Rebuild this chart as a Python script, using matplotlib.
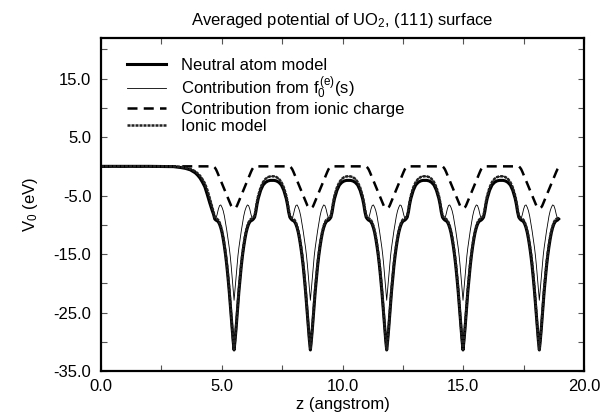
import numpy as np
import matplotlib.pyplot as plt
from matplotlib.ticker import MultipleLocator, FormatStrFormatter

plt.rcParams['font.family'] = ['Liberation Sans', 'DejaVu Sans']
plt.rcParams['mathtext.fontset'] = 'custom'
plt.rcParams['mathtext.rm'] = 'Liberation Sans'
plt.rcParams['mathtext.it'] = 'Liberation Sans'
plt.rcParams['mathtext.default'] = 'regular'

# well positions (angstrom) and where the curves stop
wells = [5.51, 8.67, 11.83, 14.99, 18.15]
z_end = 18.95

# one half of a well: distance from well centre -> potential (eV)
half_d = [0.00, 0.04, 0.08, 0.12, 0.16, 0.20, 0.25, 0.30, 0.35, 0.40, 0.45,
          0.50, 0.55, 0.60, 0.65, 0.70, 0.75, 0.80, 0.85, 0.90, 0.95, 1.00,
          1.10, 1.20, 1.30, 1.40, 1.50, 1.58]
neutral_half = [-31.4, -29.8, -27.9, -25.7, -23.5, -21.4, -19.1, -17.0, -15.2,
                -13.7, -12.4, -11.3, -10.5, -9.9, -9.5, -9.3, -9.2, -9.0, -8.7,
                -7.8, -6.5, -5.5, -4.1, -3.2, -2.75, -2.5, -2.4, -2.4]
f0_half = [-22.9, -21.0, -19.0, -17.0, -15.3, -13.9, -12.4, -11.0, -9.7, -8.5,
           -7.6, -7.0, -6.6, -6.7, -7.3, -8.2, -8.9, -9.0, -8.4, -7.3, -6.0,
           -5.0, -3.6, -2.7, -2.15, -1.85, -1.72, -1.7]
charge_half = [-7.2, -7.15, -7.0, -6.75, -6.35, -5.95, -5.45, -4.95, -4.45,
               -3.95, -3.45, -2.95, -2.45, -1.95, -1.45, -0.95, -0.5, -0.2,
               0.0, 0.0, 0.0, 0.0, 0.0, 0.0, 0.0, 0.0, 0.0, 0.0]
ionic_half = [-31.3, -29.6, -27.6, -25.3, -23.0, -20.9, -18.6, -16.5, -14.8,
              -13.3, -12.0, -11.0, -10.2, -9.6, -9.2, -9.0, -8.9, -8.7, -8.4,
              -7.3, -6.0, -5.0, -3.6, -2.7, -2.15, -1.85, -1.72, -1.7]

# vacuum side, before the first well
surf_z = [0.0, 1.0, 2.0, 3.0, 3.3, 3.5, 3.7, 3.9, 4.0, 4.1, 4.2, 4.3, 4.4,
          4.5, 4.6, 4.66]
neutral_surf = [0.0, 0.0, 0.0, -0.05, -0.2, -0.35, -0.6, -1.1, -1.5, -2.0,
                -2.7, -3.5, -4.8, -6.2, -7.5, -8.2]
f0_surf = [0.0, 0.0, 0.0, 0.0, -0.1, -0.25, -0.45, -0.85, -1.2, -1.6, -2.2,
           -2.9, -4.0, -5.4, -6.9, -7.8]
charge_surf = [0.0] * len(surf_z)
ionic_surf = f0_surf


def build(surf_v, half_v):
    z, v = list(surf_z), list(surf_v)
    for c in wells:
        for d, val in zip(half_d[::-1], half_v[::-1]):
            if c - d > z[-1]:
                z.append(c - d)
                v.append(val)
        for d, val in zip(half_d, half_v):
            if c + d <= z_end and c + d > z[-1]:
                z.append(c + d)
                v.append(val)
    return z, v


fig = plt.figure(figsize=(6.03, 4.18), dpi=100)
ax = fig.add_axes([0.1675, 0.1124, 0.801, 0.7974])

ax.plot(*build(neutral_surf, neutral_half), color='black', lw=2.2,
        label='Neutral atom model')
ax.plot(*build(f0_surf, f0_half), color='black', lw=0.6,
        label=r'Contribution from $\mathrm{f}_{0}^{\,(e)}$(s)')
ax.plot(*build(charge_surf, charge_half), color='black', lw=1.8,
        dashes=(4, 2.5), label='Contribution from ionic charge')
ax.plot(*build(ionic_surf, ionic_half), color='#222222', lw=1.8,
        dashes=(1.2, 0.4), label='Ionic model')

ax.set_xlim(0, 20)
ax.set_ylim(-35, 22)
ax.xaxis.set_major_locator(MultipleLocator(5))
ax.xaxis.set_minor_locator(MultipleLocator(2.5))
ax.set_yticks([-35, -25, -15, -5, 5, 15])
ax.yaxis.set_minor_locator(MultipleLocator(5))
ax.xaxis.set_major_formatter(FormatStrFormatter('%.1f'))
ax.yaxis.set_major_formatter(FormatStrFormatter('%.1f'))
ax.tick_params(which='both', direction='in', top=True, right=True,
               length=4, width=0.8, labelsize=12, color='#555555')
ax.tick_params(axis='y', pad=7)
ax.tick_params(axis='x', pad=6)
for s in ax.spines.values():
    s.set_linewidth(1.6)

ax.set_title(r'Averaged potential of UO$_2$, (111) surface', fontsize=12, pad=9)
ax.set_xlabel('z (angstrom)', fontsize=12, labelpad=2)
ax.set_ylabel(r'V$_0$ (eV)', fontsize=12, labelpad=10)

ax.legend(loc='upper left', frameon=False, fontsize=12, handlelength=2.3,
          handletextpad=0.9, labelspacing=0.1, borderaxespad=0.6,
          bbox_to_anchor=(0.02, 0.99))

fig.savefig('out.png', dpi=100)
